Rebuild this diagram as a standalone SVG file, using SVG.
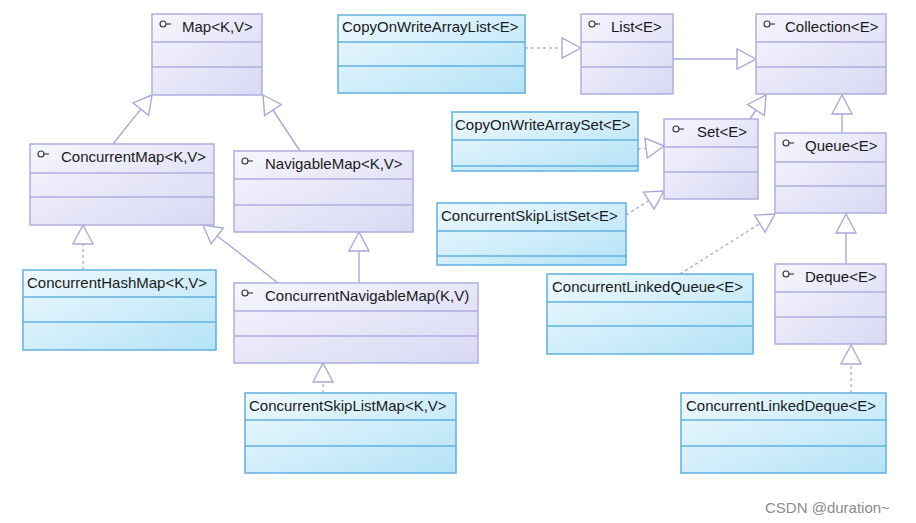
<svg xmlns="http://www.w3.org/2000/svg" width="916" height="523" viewBox="0 0 916 523">
<defs>
<linearGradient id="gi" x1="0" y1="0" x2="1" y2="1">
<stop offset="0" stop-color="#f6f6fe"/>
<stop offset="1" stop-color="#d8d8f4"/>
</linearGradient>
<linearGradient id="gc" x1="0" y1="0" x2="1" y2="1">
<stop offset="0" stop-color="#eef9fe"/>
<stop offset="1" stop-color="#b4e3f7"/>
</linearGradient>
<g id="ico"><circle cx="0" cy="0" r="3" fill="none" stroke="#333" stroke-width="1.1"/><line x1="3" y1="0" x2="8" y2="0" stroke="#333" stroke-width="1.1"/></g>
</defs>
<style>
.iface rect{fill:url(#gi);stroke:#aeaee0;stroke-width:1.5}
.iface line.s{stroke:#aeaee0;stroke-width:1.5}
.cls rect{fill:url(#gc);stroke:#62b0df;stroke-width:1.5}
.cls line.s{stroke:#62b0df;stroke-width:1.5}
text{font-family:"Liberation Sans",Arial,sans-serif;font-size:15px;fill:#1a1a1a}
.sol{stroke:#a8a8dc;stroke-width:1.4;fill:none}
.dsh{stroke:#aeaed0;stroke-width:1.4;fill:none;stroke-dasharray:3,3}
.tri{fill:#ffffff;stroke:#a8a8dc;stroke-width:1.4}
.wm{font-size:15px;fill:#8c8c8c}
</style>
<rect width="916" height="523" fill="#ffffff"/>

<g id="connectors">
<line class="sol" x1="113" y1="144" x2="140.8" y2="109.1"/>
<polygon class="tri" points="152,95 148.6,115.3 133,102.9"/>
<line class="sol" x1="300" y1="151" x2="272.9" y2="110"/>
<polygon class="tri" points="263,95 281.2,104.5 264.6,115.5"/>
<line class="dsh" x1="83" y1="270" x2="83" y2="244"/>
<polygon class="tri" points="83,225 73,244 93,244"/>
<line class="sol" x1="278" y1="283" x2="217.2" y2="236"/>
<polygon class="tri" points="203,225 223.3,228.1 211.1,243.9"/>
<line class="sol" x1="359" y1="283" x2="359" y2="251"/>
<polygon class="tri" points="359,232 349,251 369,251"/>
<line class="dsh" x1="323" y1="393" x2="323" y2="382"/>
<polygon class="tri" points="323,363 313,382 333,382"/>
<line class="dsh" x1="525" y1="48" x2="562" y2="48"/>
<polygon class="tri" points="581,48 562,38 562,58"/>
<line class="sol" x1="673" y1="59" x2="737" y2="59"/>
<polygon class="tri" points="756,59 737,49 737,69"/>
<line class="dsh" x1="638" y1="149" x2="646.1" y2="148.1"/>
<polygon class="tri" points="664,146 647.3,158 645,138.2"/>
<line class="dsh" x1="626" y1="215" x2="648.8" y2="200.6"/>
<polygon class="tri" points="664,191 654.1,209.1 643.5,192.1"/>
<line class="sol" x1="750" y1="119" x2="756" y2="110"/>
<polygon class="tri" points="766,95 764.3,115.5 747.7,104.5"/>
<line class="sol" x1="842" y1="133" x2="842" y2="114"/>
<polygon class="tri" points="842,95 832,114 852,114"/>
<line class="dsh" x1="680" y1="274" x2="759.8" y2="223.6"/>
<polygon class="tri" points="775,214 765.1,232.1 754.5,215.1"/>
<line class="sol" x1="846" y1="264" x2="846" y2="233"/>
<polygon class="tri" points="846,214 836,233 856,233"/>
<line class="dsh" x1="851" y1="393" x2="851" y2="364"/>
<polygon class="tri" points="851,345 841,364 861,364"/>
</g>

<g id="Map" class="iface">
<rect x="152" y="14" width="110" height="81"/>
<line class="s" x1="152" y1="42" x2="262" y2="42"/><line class="s" x1="152" y1="67" x2="262" y2="67"/>
<use href="#ico" x="163" y="24"/>
<text x="182" y="32">Map&lt;K,V&gt;</text>
</g>

<g id="CopyOnWriteArrayList" class="cls">
<rect x="338" y="15" width="187" height="78"/>
<line class="s" x1="338" y1="42" x2="525" y2="42"/><line class="s" x1="338" y1="66" x2="525" y2="66"/>
<text x="342" y="32">CopyOnWriteArrayList&lt;E&gt;</text>
</g>

<g id="List" class="iface">
<rect x="581" y="14" width="92" height="80"/>
<line class="s" x1="581" y1="42" x2="673" y2="42"/><line class="s" x1="581" y1="67" x2="673" y2="67"/>
<use href="#ico" x="592" y="24"/>
<text x="611" y="32">List&lt;E&gt;</text>
</g>

<g id="Collection" class="iface">
<rect x="756" y="14" width="130" height="80"/>
<line class="s" x1="756" y1="42" x2="886" y2="42"/><line class="s" x1="756" y1="67" x2="886" y2="67"/>
<use href="#ico" x="767" y="24"/>
<text x="785" y="32">Collection&lt;E&gt;</text>
</g>

<g id="ConcurrentMap" class="iface">
<rect x="30" y="144" width="184" height="81"/>
<line class="s" x1="30" y1="173" x2="214" y2="173"/><line class="s" x1="30" y1="197" x2="214" y2="197"/>
<use href="#ico" x="41" y="154"/>
<text x="61" y="162">ConcurrentMap&lt;K,V&gt;</text>
</g>

<g id="NavigableMap" class="iface">
<rect x="234" y="151" width="179" height="81"/>
<line class="s" x1="234" y1="179" x2="413" y2="179"/><line class="s" x1="234" y1="205" x2="413" y2="205"/>
<use href="#ico" x="245" y="161"/>
<text x="265" y="169">NavigableMap&lt;K,V&gt;</text>
</g>

<g id="CopyOnWriteArraySet" class="cls">
<rect x="452" y="112" width="186" height="59"/>
<line class="s" x1="452" y1="140" x2="638" y2="140"/><line class="s" x1="452" y1="166" x2="638" y2="166"/>
<text x="455" y="130">CopyOnWriteArraySet&lt;E&gt;</text>
</g>

<g id="Set" class="iface">
<rect x="664" y="119" width="94" height="80"/>
<line class="s" x1="664" y1="147" x2="758" y2="147"/><line class="s" x1="664" y1="172" x2="758" y2="172"/>
<use href="#ico" x="676" y="129"/>
<text x="697" y="137">Set&lt;E&gt;</text>
</g>

<g id="ConcurrentSkipListSet" class="cls">
<rect x="437" y="203" width="189" height="62"/>
<line class="s" x1="437" y1="231" x2="626" y2="231"/><line class="s" x1="437" y1="256" x2="626" y2="256"/>
<text x="441" y="221">ConcurrentSkipListSet&lt;E&gt;</text>
</g>

<g id="Queue" class="iface">
<rect x="775" y="133" width="111" height="80"/>
<line class="s" x1="775" y1="162" x2="886" y2="162"/><line class="s" x1="775" y1="186" x2="886" y2="186"/>
<use href="#ico" x="786" y="143"/>
<text x="805" y="151">Queue&lt;E&gt;</text>
</g>

<g id="ConcurrentHashMap" class="cls">
<rect x="23" y="270" width="193" height="80"/>
<line class="s" x1="23" y1="297" x2="216" y2="297"/><line class="s" x1="23" y1="322" x2="216" y2="322"/>
<text x="27" y="288">ConcurrentHashMap&lt;K,V&gt;</text>
</g>

<g id="ConcurrentNavigableMap" class="iface">
<rect x="234" y="283" width="244" height="80"/>
<line class="s" x1="234" y1="311" x2="478" y2="311"/><line class="s" x1="234" y1="336" x2="478" y2="336"/>
<use href="#ico" x="245" y="293"/>
<text x="265" y="301">ConcurrentNavigableMap(K,V)</text>
</g>

<g id="ConcurrentLinkedQueue" class="cls">
<rect x="547" y="274" width="206" height="80"/>
<line class="s" x1="547" y1="302" x2="753" y2="302"/><line class="s" x1="547" y1="326" x2="753" y2="326"/>
<text x="552" y="292">ConcurrentLinkedQueue&lt;E&gt;</text>
</g>

<g id="Deque" class="iface">
<rect x="775" y="264" width="111" height="80"/>
<line class="s" x1="775" y1="292" x2="886" y2="292"/><line class="s" x1="775" y1="317" x2="886" y2="317"/>
<use href="#ico" x="786" y="274"/>
<text x="805" y="282">Deque&lt;E&gt;</text>
</g>

<g id="ConcurrentSkipListMap" class="cls">
<rect x="245" y="393" width="211" height="80"/>
<line class="s" x1="245" y1="420" x2="456" y2="420"/><line class="s" x1="245" y1="446" x2="456" y2="446"/>
<text x="249" y="411">ConcurrentSkipListMap&lt;K,V&gt;</text>
</g>

<g id="ConcurrentLinkedDeque" class="cls">
<rect x="681" y="393" width="205" height="80"/>
<line class="s" x1="681" y1="420" x2="886" y2="420"/><line class="s" x1="681" y1="446" x2="886" y2="446"/>
<text x="686" y="411">ConcurrentLinkedDeque&lt;E&gt;</text>
</g>

<text class="wm" x="765" y="513">CSDN @duration~</text>
</svg>
